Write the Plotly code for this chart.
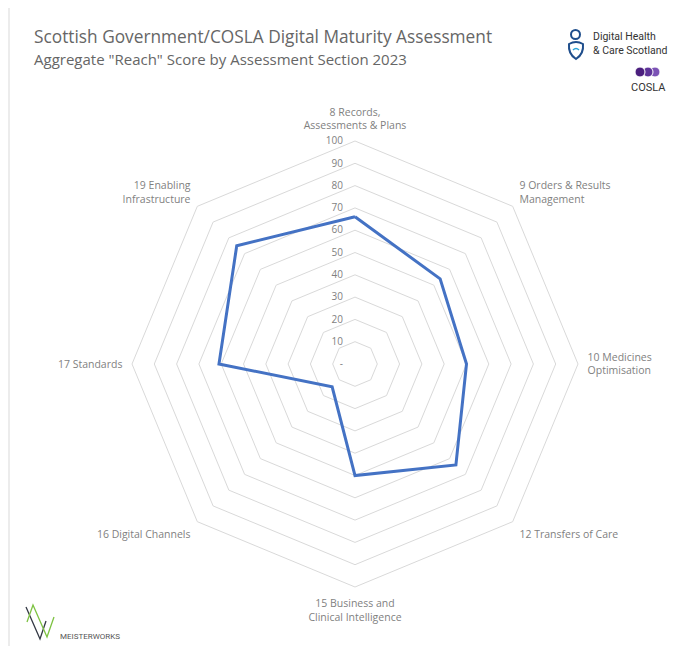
import plotly.graph_objects as go

# the page puts the figure 8px in from the top-left corner
OFF = 8
W, H = 686 - OFF, 646 - OFF

# Assessment sections (clockwise from top) and aggregate reach scores
SECTIONS = [
    "8 Records,<br>Assessments & Plans",
    "9 Orders & Results<br>Management",
    "10 Medicines<br>Optimisation",
    "12 Transfers of Care",
    "15 Business and<br>Clinical Intelligence",
    "16 Digital Channels",
    "17 Standards",
    "19 Enabling<br>Infrastructure",
]
REACH_2023 = [66, 54, 50, 64, 50, 14.5, 61, 75]

RADIAL_TICKS = [0, 10, 20, 30, 40, 50, 60, 70, 80, 90, 100]
RADIAL_TICK_TEXT = ["-", "10", "20", "30", "40", "50", "60", "70", "80", "90", "100"]


def px(x):
    # screen pixel -> paper x
    return (x - OFF) / W


def py(y):
    # screen pixel -> paper y
    return 1 - (y - OFF) / H


fig = go.Figure()
fig.add_trace(go.Scatterpolar(
    r=REACH_2023 + REACH_2023[:1],
    theta=SECTIONS + SECTIONS[:1],
    mode="lines",
    line=dict(color="#4472C4", width=3),
    hoverinfo="r+theta",
    showlegend=False,
))

cx, cy, rad = 355, 364, 223
fig.update_layout(
    width=W, height=H,
    margin=dict(l=0, r=0, t=0, b=0),
    paper_bgcolor="white",
    font=dict(family="Open Sans, sans-serif", color="#595959"),
    polar=dict(
        domain=dict(x=[px(cx - rad), px(cx + rad)], y=[py(cy + rad), py(cy - rad)]),
        bgcolor="white",
        gridshape="linear",
        angularaxis=dict(
            direction="clockwise", rotation=90,
            showgrid=False, showline=True, linecolor="#d9d9d9", linewidth=1,
            ticks="outside", ticklen=7, tickcolor="rgba(0,0,0,0)",
            tickfont=dict(size=10.5, color="#7f7f7f"),
        ),
        radialaxis=dict(
            range=[0, 100], angle=90, tickangle=90,
            tickvals=RADIAL_TICKS, ticktext=RADIAL_TICK_TEXT,
            showline=False, ticks="outside", ticklen=8, tickcolor="rgba(0,0,0,0)",
            gridcolor="#d9d9d9", gridwidth=1,
            tickfont=dict(size=10, color="#7f7f7f"),
            side="counterclockwise",
        ),
    ),
)

annotations = [
    dict(text="Scottish Government/COSLA Digital Maturity Assessment",
         x=px(32), y=py(37), xanchor="left", yanchor="middle",
         font=dict(size=17.3, color="#666666")),
    dict(text='Aggregate "Reach" Score by Assessment Section 2023',
         x=px(32), y=py(59), xanchor="left", yanchor="middle",
         font=dict(size=15, color="#666666")),
    dict(text="Digital Health<br>& Care Scotland",
         x=px(591), y=py(44), xanchor="left", yanchor="middle", align="left",
         font=dict(family="Roboto, sans-serif", size=10.5, color="#333333")),
    dict(text="COSLA",
         x=px(648), y=py(88), xanchor="center", yanchor="middle",
         font=dict(family="Roboto, sans-serif", size=11, color="#333333")),
    dict(text="MEISTERWORKS",
         x=px(58), y=py(636), xanchor="left", yanchor="middle",
         font=dict(family="Roboto, sans-serif", size=8, color="#555555")),
]
for a in annotations:
    a.update(xref="paper", yref="paper", showarrow=False)
fig.update_layout(annotations=annotations)

shapes = [
    # card border
    dict(type="line", x0=px(8), x1=px(686), y0=py(7), y1=py(7), line=dict(color="#d9d9d9", width=1)),
    dict(type="line", x0=px(9), x1=px(9), y0=py(7), y1=py(646), line=dict(color="#d9d9d9", width=1)),
    # DHCS icon
    dict(type="circle", x0=px(571), x1=px(580), y0=py(30), y1=py(39),
         line=dict(color="#1f4e8c", width=2)),
    dict(type="path", path=f"M {px(569)} {py(44)} Q {px(576)} {py(40)} {px(583)} {py(44)} "
                           f"Q {px(584)} {py(54)} {px(576)} {py(59)} Q {px(568)} {py(54)} {px(569)} {py(44)} Z",
         line=dict(color="#1f4e8c", width=2)),
    dict(type="path", path=f"M {px(573)} {py(50)} Q {px(576)} {py(47)} {px(579)} {py(50)}",
         line=dict(color="#29a3d8", width=1.5)),
    # COSLA dots
    dict(type="circle", x0=px(650), x1=px(660), y0=py(67), y1=py(77),
         fillcolor="#7b52b5", line=dict(color="white", width=1)),
    dict(type="circle", x0=px(643), x1=px(653), y0=py(67), y1=py(77),
         fillcolor="#5e3399", line=dict(color="white", width=1)),
    dict(type="circle", x0=px(635), x1=px(645), y0=py(67), y1=py(77),
         fillcolor="#4b1f7e", line=dict(color="white", width=1)),
    # Meisterworks mark
    dict(type="path", path=f"M {px(26)} {py(607)} L {px(40)} {py(639)} L {px(46)} {py(621)}",
         line=dict(color="#333844", width=1.3)),
    dict(type="path", path=f"M {px(27)} {py(622)} L {px(33)} {py(605)} L {px(47)} {py(637)} L {px(54)} {py(617)}",
         line=dict(color="#7dc242", width=1.3)),
]
fig.update_layout(shapes=shapes)

fig.write_html("out.html")
